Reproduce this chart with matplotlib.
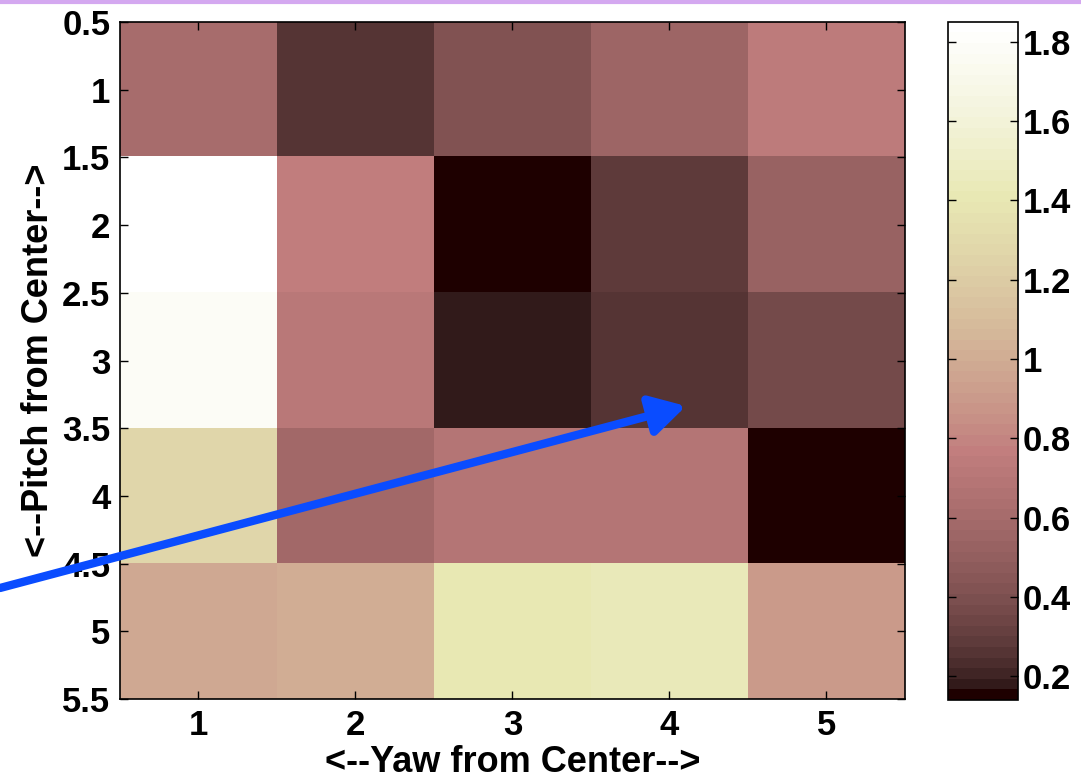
import numpy as np
import matplotlib
matplotlib.use('Agg')
import matplotlib.pyplot as plt
from matplotlib.colors import ListedColormap
from matplotlib.lines import Line2D

# データ (行: pitch 1..5, 列: yaw 1..5)
yaw = [1, 2, 3, 4, 5]
pitch = [1, 2, 3, 4, 5]
row1 = [0.61, 0.25, 0.43, 0.55, 0.75]
row2 = [1.85, 0.77, 0.14, 0.29, 0.52]
row3 = [1.79, 0.71, 0.18, 0.25, 0.37]
row4 = [1.28, 0.59, 0.70, 0.70, 0.14]
row5 = [0.98, 1.00, 1.42, 1.44, 0.91]
cbar_ticks = [0.2, 0.4, 0.6, 0.8, 1.0, 1.2, 1.4, 1.6, 1.8]
y_ticks = [0.5, 1, 1.5, 2, 2.5, 3, 3.5, 4, 4.5, 5, 5.5]

data = np.array([row1, row2, row3, row4, row5])


# MATLAB風 pink カラーマップ (64段階)
def matlab_pink(m=64):
    n = int(3 / 8 * m)
    i = np.arange(1, m + 1)
    r = np.minimum(i / n, 1.0)
    g = np.clip((i - n) / n, 0, 1)
    b = np.clip((i - 2 * n) / (m - 2 * n), 0, 1)
    gray = np.linspace(0, 1, m)
    hot = np.stack([r, g, b], axis=1)
    return np.sqrt((2 * gray[:, None] + hot) / 3)


cmap = ListedColormap(matlab_pink(64))

plt.rcParams['font.family'] = ['Liberation Sans', 'DejaVu Sans']
plt.rcParams['font.weight'] = 'bold'

fig = plt.figure(figsize=(10.81, 7.82), dpi=100)
ax = fig.add_axes([0.111, 0.106, 0.726, 0.866])
cax = fig.add_axes([0.877, 0.105, 0.065, 0.867])

im = ax.imshow(data, cmap=cmap, vmin=data.min(), vmax=data.max(),
               extent=[0.5, 5.5, 5.5, 0.5], aspect='auto',
               interpolation='nearest')

ax.set_xticks(yaw)
ax.set_yticks(y_ticks)
ax.set_yticklabels([f'{v:g}' for v in y_ticks])
ax.tick_params(direction='in', length=6, width=1, labelsize=25,
               top=True, right=True, pad=7)
ax.set_xlabel('<--Yaw from Center-->', fontsize=26, fontweight='bold', labelpad=2)
ax.set_ylabel('<--Pitch from Center-->', fontsize=26, fontweight='bold', labelpad=4)
for s in ax.spines.values():
    s.set_linewidth(1.2)

cb = fig.colorbar(im, cax=cax)
cb.set_ticks(cbar_ticks)
cb.ax.set_yticklabels([f'{v:g}' for v in cbar_ticks])
cb.ax.tick_params(direction='in', length=6, width=1, labelsize=25,
                  left=True, right=True, pad=3)
cb.outline.set_linewidth(1.2)

# 青い矢印
fig.patches.append(matplotlib.patches.FancyArrowPatch(
    (0.0, 1 - 588 / 782), (686 / 1081, 1 - 406 / 782),
    transform=fig.transFigure, arrowstyle='-|>,head_length=14,head_width=8',
    color='#0a4cff', linewidth=6, mutation_scale=1.5, shrinkA=0, shrinkB=0))

# 上端の紫の線
fig.add_artist(Line2D([0, 1], [0.998, 0.998], transform=fig.transFigure,
                      color='#d4a8f0', linewidth=3))

fig.savefig('out.png', dpi=100)
